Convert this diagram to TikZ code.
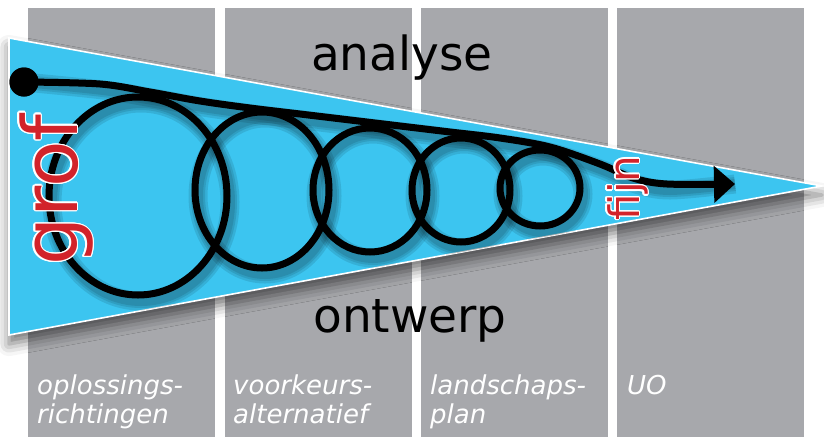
\documentclass[tikz,border=0pt]{standalone}
\usepackage{fontspec}
\setmainfont{DejaVu Sans}
\usepackage[copies]{contour}
\contourlength{1.3pt}
\usetikzlibrary{arrows.meta,shadows.blur}
\definecolor{colgray}{RGB}{167,168,172}
\definecolor{wedgeblue}{RGB}{60,197,240}
\definecolor{grofred}{RGB}{210,35,42}
\tikzset{
  colbox/.style={fill=colgray,draw=none},
  wedge/.style={fill=wedgeblue,draw=white,line width=1.6pt,
                blur shadow={shadow xshift=0pt,shadow yshift=-9pt,
                             shadow blur radius=12pt,shadow opacity=55}},
  lp/.style={draw=black,line width=7pt},
  lsh/.style={draw=black,line width=#1,opacity=.1},
  dot/.style={circle,fill=black,minimum size=29pt,inner sep=0pt},
  big/.style={font=\fontsize{47}{50}\selectfont,inner sep=0pt,anchor=base},
  rdtxt/.style={text=grofred,inner sep=0pt,anchor=base,rotate=90},
  tag/.style={font=\fontsize{26}{29}\selectfont\itshape,text=white,
              align=left,inner sep=0pt,anchor=north west},
}
\def\rings{138/196/89/99,262/190/67/78,370/190/57/62,461/190/49/52,540/188/40/38}
\def\topline{(100,84) (150,92) (200,101) (250,108) (300,114) (350,120)
  (400,126) (450,132) (500,138) (550,147) (600,164) (633,178) (667,184)}

\begin{document}
\begin{tikzpicture}[x=1pt,y=-1pt]
  \useasboundingbox (0,0) rectangle (824,437);
  % four phase columns
  \foreach \cx in {28,225,421,617}
    \path[colbox] (\cx,8) rectangle ++(187,429);
  \path[wedge] (9,38) -- (9,335) -- (822,186) -- cycle;
  \node[dot] (start) at (24,82) {};
  \coordinate (tip) at (735,184);
  % soft shadows of the loops
  \begin{scope}
    \clip (9,38) -- (9,335) -- (822,186) -- cycle;
    \foreach \w in {19,14,10}{
      \begin{scope}[shift={(3,6)}]
        \foreach \a/\b/\c/\d in \rings \draw[lsh=\w pt] (\a,\b) ellipse ({\c} and {\d});
        \draw[lsh=\w pt] plot[smooth,tension=.55] coordinates {(start.center) \topline (tip)};
      \end{scope}}
  \end{scope}
  \foreach \a/\b/\c/\d in \rings \draw[lp] (\a,\b) ellipse ({\c} and {\d});
  \draw[lp,-{Triangle[length=21pt,width=36pt]}]
    plot[smooth,tension=.55] coordinates {(start.center) \topline (tip)};
  \node[dot] at (start) {};
  \node[big] (ana) at (402,70) {analyse};
  \node[big] (ont) at (410,332) {ontwerp};
  \node[rdtxt,font=\fontsize{76}{80}\selectfont] (grof) at (77,190) {\contour{white}{grof}};
  \node[rdtxt,font=\fontsize{42}{46}\selectfont] (fijn) at (639,188) {\contour{white}{fijn}};
  \node[tag] (t1) at (37,375) {oplossings-\\richtingen};
  \node[tag] (t2) at (233,375) {voorkeurs-\\alternatief};
  \node[tag] (t3) at (430,375) {landschaps-\\plan};
  \node[tag] (t4) at (627,375) {UO};
\end{tikzpicture}
\end{document}
